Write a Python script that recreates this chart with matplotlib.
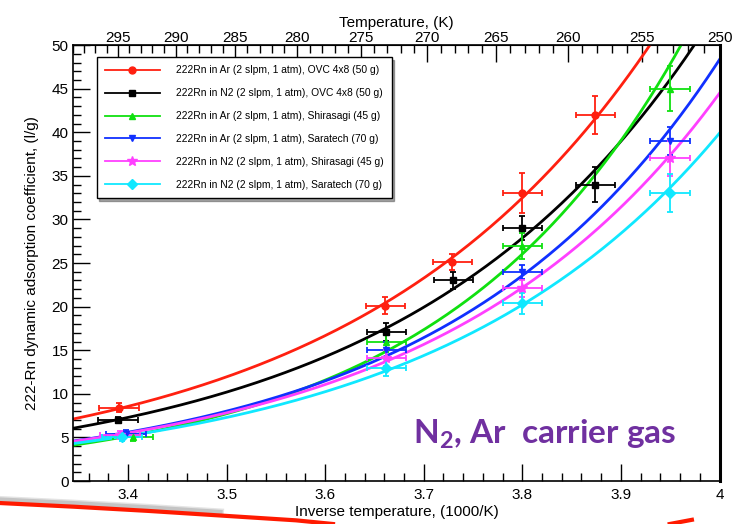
import matplotlib.pyplot as plt
import numpy as np
from matplotlib.ticker import MultipleLocator, FixedLocator

plt.rcParams["font.family"] = ["Liberation Sans", "DejaVu Sans"]
plt.rcParams["mathtext.fontset"] = "custom"
plt.rcParams["mathtext.rm"] = "Lato:bold"
plt.rcParams["mathtext.bf"] = "Lato:bold"

# inverse temperature (1000/K), adsorption coefficient (l/g), errors
labels = [
    "222Rn in Ar (2 slpm, 1 atm), OVC 4x8 (50 g)",
    "222Rn in N2 (2 slpm, 1 atm), OVC 4x8 (50 g)",
    "222Rn in Ar (2 slpm, 1 atm), Shirasagi (45 g)",
    "222Rn in Ar (2 slpm, 1 atm), Saratech (70 g)",
    "222Rn in N2 (2 slpm, 1 atm), Shirasagi (45 g)",
    "222Rn in N2 (2 slpm, 1 atm), Saratech (70 g)",
]
colors = ["#ff2010", "#000000", "#10e010", "#1030ff", "#ff40ff", "#10e8ff"]
markers = ["o", "s", "^", "v", "*", "D"]

x_ar_ovc = [3.391, 3.661, 3.729, 3.800, 3.874]
y_ar_ovc = [8.4, 20.1, 25.1, 33.0, 42.0]
ye_ar_ovc = [0.5, 1.0, 0.9, 2.3, 2.2]

x_n2_ovc = [3.390, 3.662, 3.730, 3.800, 3.874]
y_n2_ovc = [7.0, 17.1, 23.0, 29.0, 34.0]
ye_n2_ovc = [0.4, 1.0, 1.0, 1.4, 2.0]

x_ar_shi = [3.405, 3.662, 3.800, 3.950]
y_ar_shi = [5.0, 16.0, 27.0, 45.0]
ye_ar_shi = [0.4, 1.2, 1.5, 2.6]

x_ar_sar = [3.398, 3.662, 3.800, 3.950]
y_ar_sar = [5.4, 15.0, 24.0, 39.0]
ye_ar_sar = [0.4, 0.9, 0.8, 1.6]

x_n2_shi = [3.392, 3.662, 3.800, 3.950]
y_n2_shi = [5.3, 14.1, 22.1, 37.0]
ye_n2_shi = [0.4, 0.9, 1.0, 2.0]

x_n2_sar = [3.394, 3.662, 3.800, 3.950]
y_n2_sar = [5.0, 13.0, 20.4, 33.0]
ye_n2_sar = [0.4, 1.0, 1.2, 2.2]

xerr = 0.02

series = [
    (x_ar_ovc, y_ar_ovc, ye_ar_ovc),
    (x_n2_ovc, y_n2_ovc, ye_n2_ovc),
    (x_ar_shi, y_ar_shi, ye_ar_shi),
    (x_ar_sar, y_ar_sar, ye_ar_sar),
    (x_n2_shi, y_n2_shi, ye_n2_shi),
    (x_n2_sar, y_n2_sar, ye_n2_sar),
]

temp_ticks = [295, 290, 285, 280, 275, 270, 265, 260, 255, 250]

fig = plt.figure(figsize=(7.4, 5.24), dpi=100)
ax = fig.add_axes([0.099, 0.082, 0.8733, 0.832])
xmin, xmax = 1000 / 299, 4.0
xs = np.linspace(xmin, xmax, 300)

handles = []
for (x, y, ye), c, m, lab in zip(series, colors, markers, labels):
    x = np.array(x)
    y = np.array(y)
    # exponential fit through the points (log-linear least squares)
    b, a = np.polyfit(x, np.log(y), 1)
    ax.plot(xs, np.exp(a + b * xs), color=c, lw=2.0, zorder=2)
    ax.errorbar(x, y, xerr=xerr, yerr=ye, fmt="none", ecolor=c,
                elinewidth=1.3, capsize=2, capthick=1.3, zorder=3)
    ms = 7 if m == "*" else 5
    ax.plot(x, y, ls="none", marker=m, color=c, ms=ms, zorder=4)
    h, = ax.plot([], [], color=c, lw=1.3, marker=m, ms=ms)
    handles.append(h)

ax.set_xlim(xmin, xmax)
ax.set_ylim(0, 50)
ax.xaxis.set_major_locator(MultipleLocator(0.1))
ax.xaxis.set_minor_locator(MultipleLocator(0.02))
ax.yaxis.set_major_locator(MultipleLocator(5))
ax.yaxis.set_minor_locator(MultipleLocator(1))
ax.tick_params(which="both", direction="in", top=False, right=False,
               labelsize=11, width=1.0)
ax.tick_params(which="major", length=12)
ax.tick_params(which="minor", length=6)
ax.tick_params(axis="x", pad=5)
ax.set_xticks([3.4, 3.5, 3.6, 3.7, 3.8, 3.9, 4.0])
ax.set_xticklabels(["3.4", "3.5", "3.6", "3.7", "3.8", "3.9", "4"])
for s in ax.spines.values():
    s.set_linewidth(1.2)
ax.spines["right"].set_linewidth(2.2)
ax.set_xlabel("Inverse temperature, (1000/K)", fontsize=11, labelpad=2)
ax.set_ylabel("222-Rn dynamic adsorption coefficient, (l/g)", fontsize=11,
              labelpad=9)

sec = ax.secondary_xaxis("top", functions=(lambda v: 1000 / v,
                                           lambda v: 1000 / v))
sec.xaxis.set_major_locator(FixedLocator(temp_ticks))
sec.xaxis.set_minor_locator(FixedLocator(np.arange(250, 300, 1)))
sec.tick_params(which="both", direction="in", labelsize=11, width=1.0, pad=0)
sec.tick_params(which="major", length=12)
sec.tick_params(which="minor", length=6)
sec.set_xlabel("Temperature, (K)", fontsize=11, labelpad=3)

leg = ax.legend(handles, labels, loc="upper left",
                bbox_to_anchor=(0.036, 0.972), fontsize=7.4,
                frameon=True, fancybox=False, shadow=True,
                handlelength=5.4, borderpad=0.8, labelspacing=1.25,
                handletextpad=1.5, borderaxespad=0)
leg.get_frame().set_edgecolor("black")
leg.get_frame().set_linewidth(1.0)

ax.text(0.525, 0.087, r"N$_\mathbf{2}$, Ar  carrier gas", transform=ax.transAxes,
        color="#7030a0", fontsize=24, fontweight="bold", family="Lato")

# red underline swoosh of the slide
sx = np.array([0.0, 0.1, 0.2, 0.3, 0.4, 0.45])
sy = np.array([0.040, 0.033, 0.025, 0.016, 0.007, 0.0])
for lw, grey in [(5, "#e4e4e4"), (3, "#c4c4c4")]:
    fig.add_artist(plt.Line2D(sx[:4] - 0.002, sy[:4] + 0.007, color=grey,
                              lw=lw, transform=fig.transFigure))
fig.add_artist(plt.Line2D(sx, sy, color="#ff1a00", lw=3,
                          transform=fig.transFigure))
fig.add_artist(plt.Line2D([0.905, 0.935], [0.0, 0.008], color="#ff1a00",
                          lw=3, transform=fig.transFigure))

fig.savefig("out.png", dpi=100)
